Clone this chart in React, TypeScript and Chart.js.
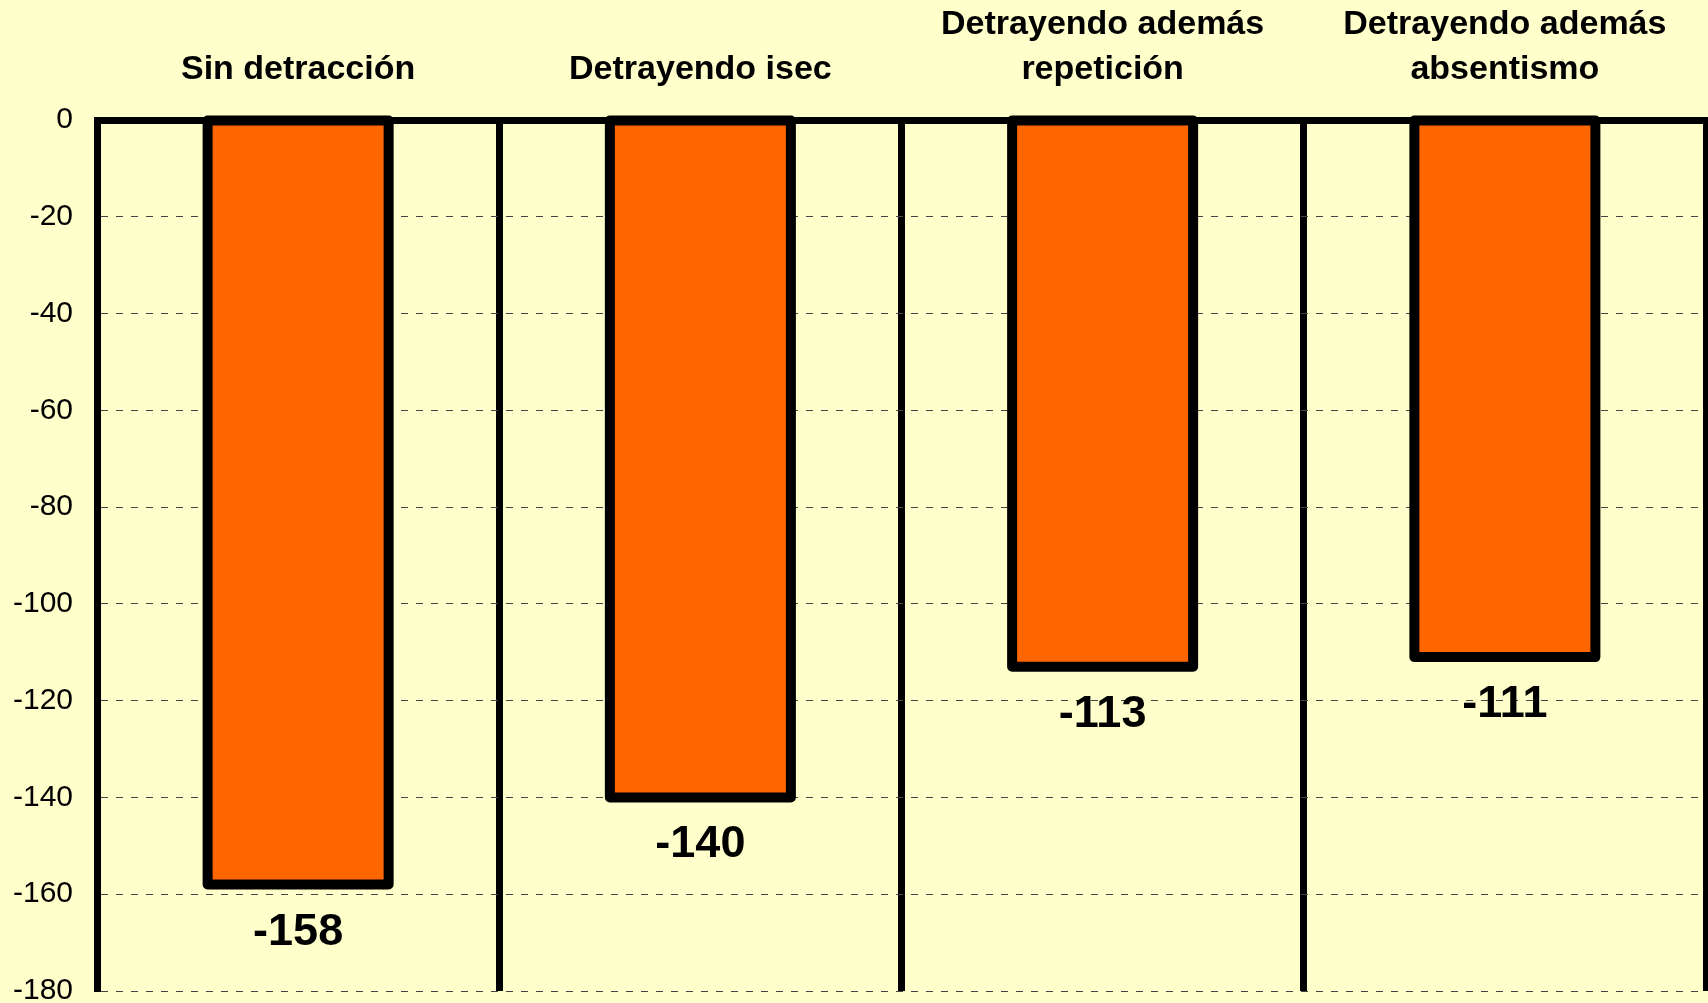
import React, { useEffect, useRef } from "react";
import { Chart, registerables } from "chart.js";

Chart.register(...registerables);

const categories: string[][] = [
  ["Sin detracción"],
  ["Detrayendo isec"],
  ["Detrayendo además", "repetición"],
  ["Detrayendo además", "absentismo"],
];
const values: number[] = [-158, -140, -113, -111];
const yMin = -180;
const yMax = 0;
const yStep = 20;

const FONT = "'Liberation Sans', Arial, Helvetica, sans-serif";

const barOutline = {
  id: "barOutline",
  afterDatasetsDraw(chart: any) {
    const ctx = chart.ctx;
    const meta = chart.getDatasetMeta(0);
    ctx.save();
    meta.data.forEach((el: any, i: number) => {
      const p = el.getProps(["x", "y", "base", "width"], true);
      const top = Math.min(p.y, p.base);
      const h = Math.abs(p.base - p.y);
      ctx.lineWidth = 10;
      ctx.lineJoin = "round";
      ctx.strokeStyle = "#000000";
      ctx.strokeRect(p.x - p.width / 2, top, p.width, h);
      ctx.fillStyle = "#000000";
      ctx.font = `bold 45px ${FONT}`;
      ctx.textAlign = "center";
      ctx.textBaseline = "alphabetic";
      ctx.fillText(String(values[i]), p.x, p.y + 60);
    });
    ctx.restore();
  },
};

export default function App() {
  const ref = useRef<HTMLCanvasElement | null>(null);
  useEffect(() => {
    if (!ref.current) return;
    const chart = new Chart(ref.current, {
      type: "bar",
      data: {
        labels: categories,
        datasets: [
          {
            data: values,
            backgroundColor: "#FF6600",
            borderWidth: 0,
            barPercentage: 0.45,
            categoryPercentage: 1,
          },
        ],
      },
      options: {
        animation: false,
        responsive: false,
        layout: { padding: { left: 0, right: 2, top: 0, bottom: 12 } },
        plugins: {
          legend: { display: false },
          tooltip: { enabled: false },
          title: { display: false },
        },
        scales: {
          x: {
            position: "top",
            grid: {
              display: true,
              offset: true,
              color: "#000000",
              lineWidth: 7,
              drawTicks: false,
            },
            border: { display: true, color: "#000000", width: 7 },
            ticks: {
              color: "#000000",
              padding: 28,
              maxRotation: 0,
              autoSkip: false,
              font: { family: FONT, size: 34, weight: "bold", lineHeight: 1.32 },
            },
            afterFit(scale: any) {
              scale.height = 120;
              scale.paddingLeft = 0;
              scale.paddingRight = 0;
            },
          },
          y: {
            min: yMin,
            max: yMax,
            ticks: {
              stepSize: yStep,
              color: "#000000",
              padding: 24,
              font: { family: FONT, size: 30 },
            },
            grid: {
              color: "#444444",
              lineWidth: 1,
              drawTicks: false,
            },
            border: { display: true, color: "#000000", width: 7, dash: [7, 8] },
            afterFit(scale: any) {
              scale.width = 97;
              scale.paddingTop = 0;
              scale.paddingBottom = 0;
            },
          },
        },
      },
      plugins: [barOutline],
    });
    return () => chart.destroy();
  }, []);
  return (
    <div
      style={{
        position: "fixed",
        left: 0,
        top: 0,
        width: 1708,
        height: 1003,
        background: "#FFFFCC",
      }}
    >
      <canvas ref={ref} width={1708} height={1003} />
    </div>
  );
}
